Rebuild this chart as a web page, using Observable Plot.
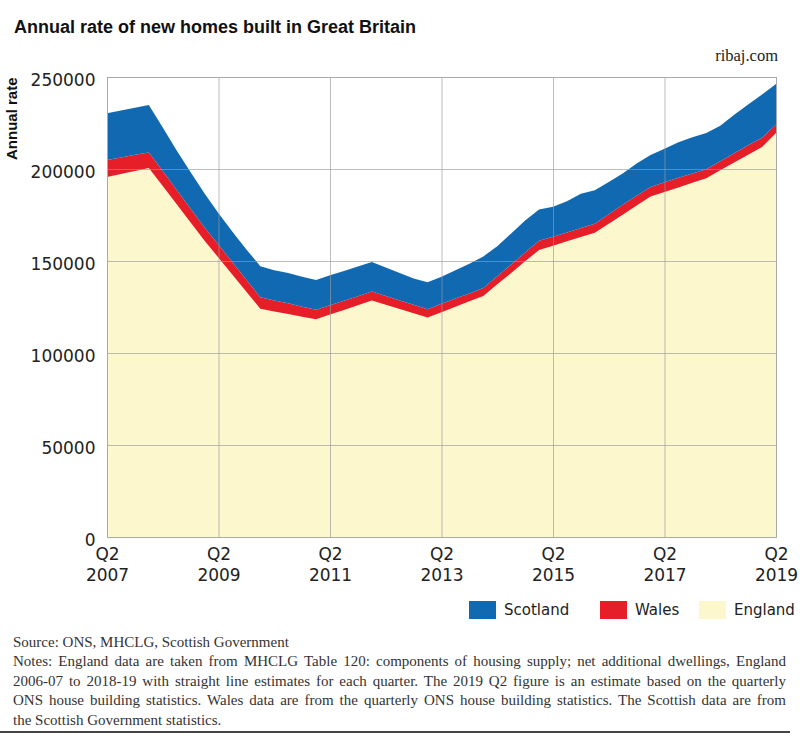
<!DOCTYPE html>
<html>
<head>
<meta charset="utf-8">
<script src="https://cdn.jsdelivr.net/npm/d3@7"></script>
<script src="https://cdn.jsdelivr.net/npm/@observablehq/plot@0.6"></script>
<style>
  body { margin: 0; background: #fff; }
  #wrap { position: relative; width: 800px; height: 736px; overflow: hidden; background: #fff; }
  #title { position: absolute; left: 14px; top: 17px; font: bold 18px "Liberation Sans", Arial, sans-serif; color: #111; white-space: nowrap; }
  #site { position: absolute; right: 22px; top: 46px; font: 16.5px "Liberation Serif", serif; color: #222; }
  #ylab { position: absolute; left: 3px; top: 160px; transform: rotate(-90deg); transform-origin: left top; font: bold 15px "Liberation Sans", Arial, sans-serif; color: #111; white-space: nowrap; }
  #chart { position: absolute; left: 0; top: 0; }
  #legend { position: absolute; top: 601px; left: 0; width: 800px; height: 20px; font: 15px "DejaVu Sans", sans-serif; color: #222; }
  #legend .item { position: absolute; top: 0; display: flex; align-items: center; white-space: nowrap; }
  #legend .sw { width: 27px; height: 18px; margin-right: 8px; }
  #notes { position: absolute; left: 13px; top: 633px; font: 15px/19.4px "Liberation Serif", serif; color: #333; }
  #notes .j { width: 773px; text-align: justify; text-align-last: justify; white-space: nowrap; }
  #notes .l { white-space: nowrap; }
  #rule { position: absolute; left: 0; top: 731px; width: 790px; height: 1.5px; background: #444; }
</style>
</head>
<body>
<div id="wrap">
  <div id="chart"></div>
  <div id="title">Annual rate of new homes built in Great Britain</div>
  <div id="site">ribaj.com</div>
  <div id="ylab">Annual rate</div>
  <div id="legend"></div>
  <div id="notes">
    <div class="l">Source: ONS, MHCLG, Scottish Government</div>
    <div class="j">Notes: England data are taken from MHCLG Table 120: components of housing supply; net additional dwellings, England</div>
    <div class="j">2006-07 to 2018-19 with straight line estimates for each quarter. The 2019 Q2 figure is an estimate based on the quarterly</div>
    <div class="j">ONS house building statistics. Wales data are from the quarterly ONS house building statistics. The Scottish data are from</div>
    <div class="l">the Scottish Government statistics.</div>
  </div>
  <div id="rule"></div>
</div>
<script>
const quarters = [
  "2007 Q2","2007 Q3","2007 Q4","2008 Q1","2008 Q2","2008 Q3","2008 Q4","2009 Q1",
  "2009 Q2","2009 Q3","2009 Q4","2010 Q1","2010 Q2","2010 Q3","2010 Q4","2011 Q1",
  "2011 Q2","2011 Q3","2011 Q4","2012 Q1","2012 Q2","2012 Q3","2012 Q4","2013 Q1",
  "2013 Q2","2013 Q3","2013 Q4","2014 Q1","2014 Q2","2014 Q3","2014 Q4","2015 Q1",
  "2015 Q2","2015 Q3","2015 Q4","2016 Q1","2016 Q2","2016 Q3","2016 Q4","2017 Q1",
  "2017 Q2","2017 Q3","2017 Q4","2018 Q1","2018 Q2","2018 Q3","2018 Q4","2019 Q1",
  "2019 Q2"
];
const england = [
  195600,197300,198900,200600,190700,180800,170900,161000,
  151800,142500,133300,124000,122600,121200,119700,118300,
  120900,123400,126000,128500,126200,123900,121600,119300,
  122200,125200,128100,131000,137300,143500,149800,156000,
  158300,160700,163000,165300,170200,175200,180100,185000,
  187500,190000,192500,195000,199300,203500,207800,212000,
  219500
];
const wales = [
  9300,9000,8800,8400,8200,7800,7500,7200,
  7000,6800,6500,6300,6000,5800,5500,5200,
  5000,5000,4900,4900,4800,4700,4600,4500,
  4500,4400,4300,4300,4400,4600,4800,5000,
  4900,4800,4900,5000,5200,5400,5300,5200,
  5300,5300,5000,4800,4900,5000,5100,5000,
  4700
];
const scotland = [
  25400,25500,25600,25800,23600,21400,19800,18500,
  17200,16600,16500,16900,16400,16500,16300,16200,
  16300,16100,16100,16000,15500,14900,14300,14600,
  14800,15400,16100,17200,16300,16900,17400,17000,
  16300,17000,18600,18200,17600,16900,17600,17400,
  18200,19200,19700,19700,19300,21000,22100,23500,
  22000
];
const regions = ["England", "Wales", "Scotland"];
const colors = ["#fdf7cd", "#e61e28", "#1169b2"];
const legendOrder = ["Scotland", "Wales", "England"];
const yTicks = [0, 50000, 100000, 150000, 200000, 250000];
const xTickQuarters = ["2007 Q2","2009 Q2","2011 Q2","2013 Q2","2015 Q2","2017 Q2","2019 Q2"];

const series = {England: england, Wales: wales, Scotland: scotland};
const data = [];
regions.forEach(r => quarters.forEach((q, i) => data.push({i, quarter: q, region: r, value: series[r][i]})));
const xTicks = xTickQuarters.map(q => quarters.indexOf(q));
const fmtX = i => { const [y, q] = quarters[i].split(" "); return q + "\n" + y; };

const chart = Plot.plot({
  width: 800,
  height: 600,
  marginLeft: 107,
  marginRight: 24,
  marginTop: 77,
  marginBottom: 63,
  style: {fontFamily: "'DejaVu Sans', sans-serif", color: "#222", background: "transparent"},
  x: {domain: [0, quarters.length - 1], label: null},
  y: {domain: [0, 250000], label: null},
  color: {domain: regions, range: colors},
  marks: [
    Plot.areaY(data, {x: "i", y: "value", fill: "region", z: "region", order: regions}),
    Plot.ruleY(yTicks, {stroke: "#999", strokeOpacity: 0.65}),
    Plot.ruleX(xTicks, {stroke: "#999", strokeOpacity: 0.65}),
    Plot.frame({stroke: "#aaa"}),
    Plot.axisY(yTicks, {tickSize: 0, tickPadding: 12, fontSize: 17, dy: 3, label: null, tickFormat: d => String(d)}),
    Plot.axisX(xTicks, {tickSize: 0, tickPadding: 8, fontSize: 17, lineHeight: 1.22, label: null, tickFormat: fmtX})
  ]
});
document.getElementById("chart").appendChild(chart);

const legendLeft = [469, 600, 699];
const legend = document.getElementById("legend");
legendOrder.forEach((r, k) => {
  const item = document.createElement("div");
  item.className = "item";
  item.style.left = legendLeft[k] + "px";
  const sw = document.createElement("div");
  sw.className = "sw";
  sw.style.background = colors[regions.indexOf(r)];
  const t = document.createElement("span");
  t.textContent = r;
  item.appendChild(sw);
  item.appendChild(t);
  legend.appendChild(item);
});
</script>
</body>
</html>
